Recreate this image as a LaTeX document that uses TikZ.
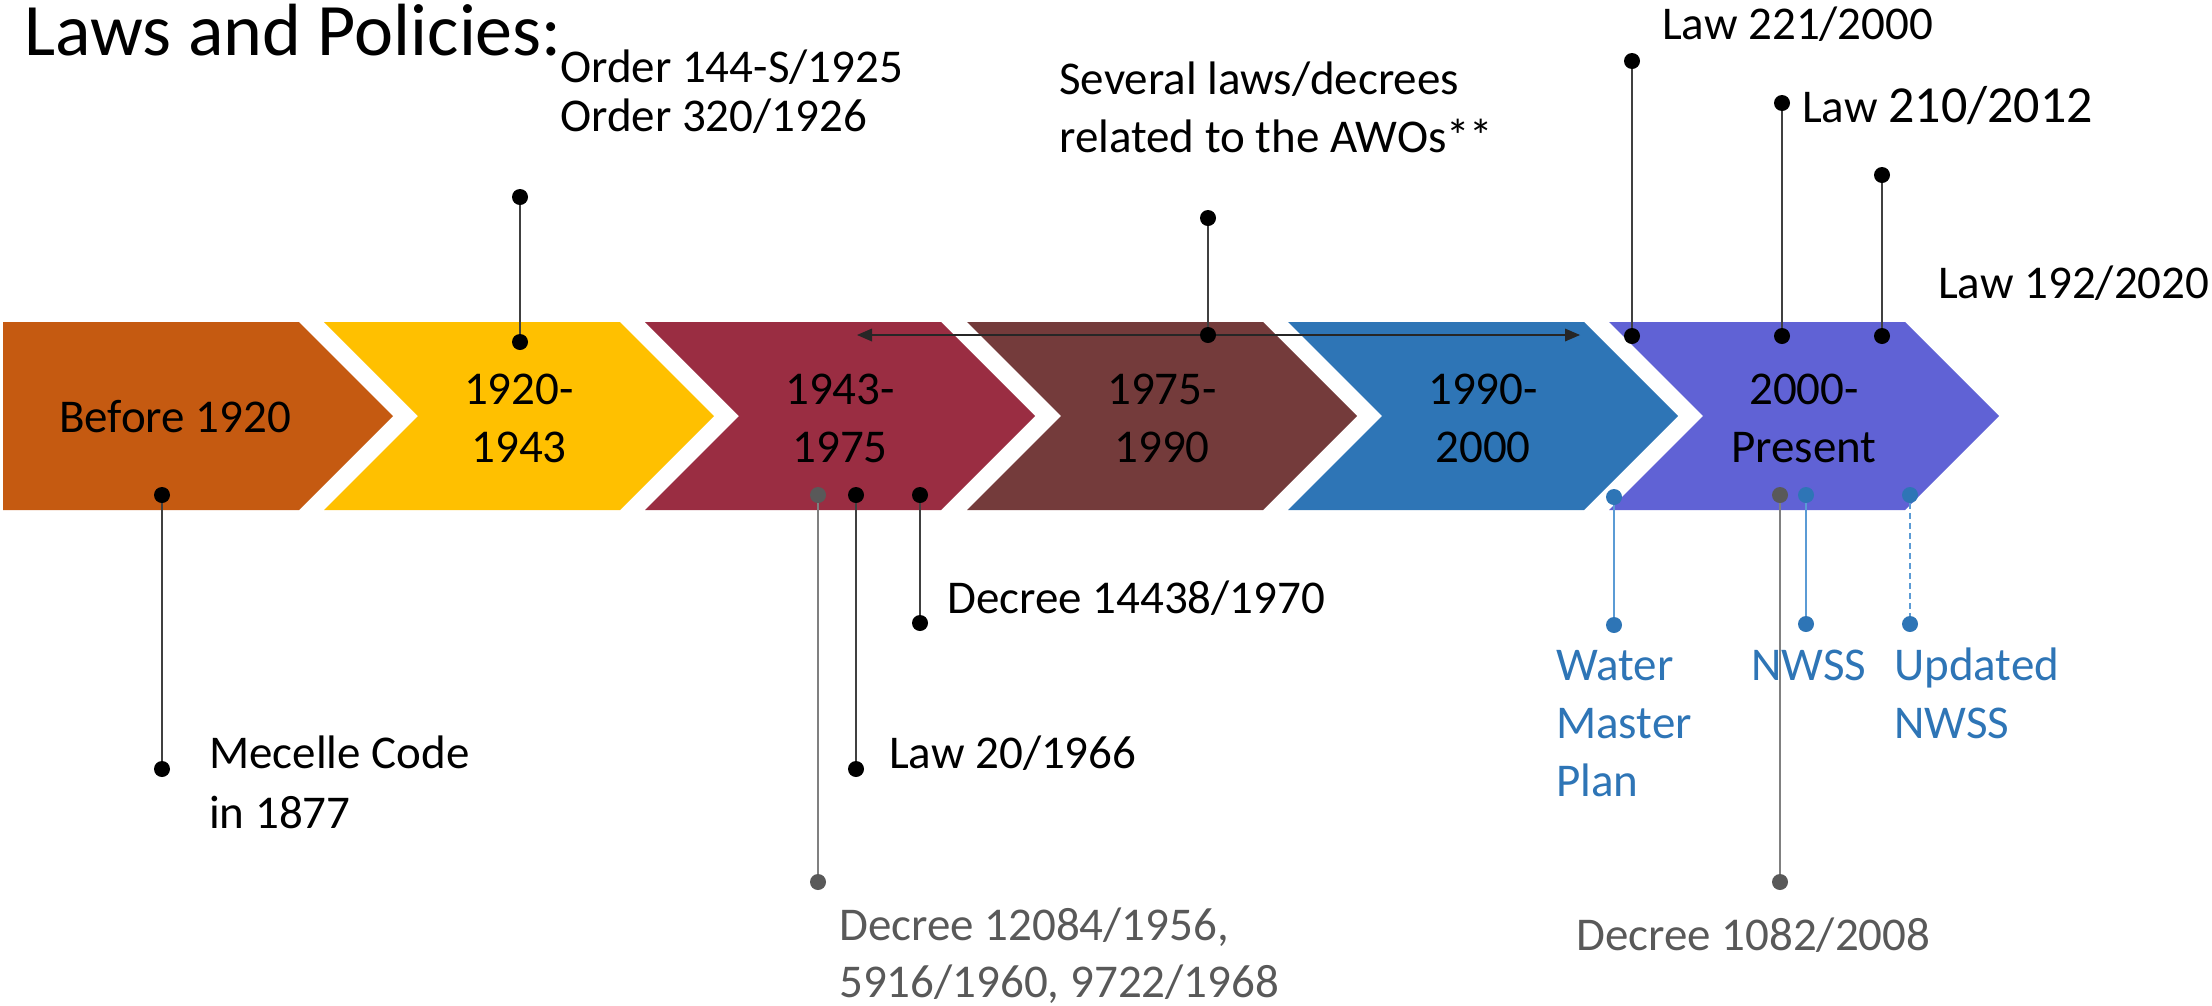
\documentclass[tikz,border=0pt]{standalone}
\usepackage{fontspec}
\setmainfont{Carlito}
\definecolor{corange}{HTML}{C55A11}
\definecolor{cyellow}{HTML}{FFC000}
\definecolor{cred}{HTML}{9A2D42}
\definecolor{cbrown}{HTML}{743B3B}
\definecolor{cblue}{HTML}{2E75B6}
\definecolor{cviolet}{HTML}{6062D5}
\definecolor{dgrey}{HTML}{595959}
\definecolor{lgrey}{HTML}{808080}
\definecolor{lblue}{HTML}{5B9BD5}

\begin{document}
\begin{tikzpicture}[x=1pt,y=-1pt]
\tikzstyle{every node}+=[inner sep=0pt]
\tikzstyle{lawdot}=[circle, fill=black, minimum size=16pt]
\tikzstyle{greydot}=[lawdot, fill=dgrey]
\tikzstyle{bluedot}=[lawdot, fill=cblue]
\tikzstyle{lawline}=[draw=black!75, line width=2pt]
\tikzstyle{greyline}=[draw=lgrey, line width=1.5pt]
\tikzstyle{blueline}=[draw=lblue, line width=1.5pt]
\tikzstyle{period}=[anchor=base, align=center, font=\fontsize{47}{58}\selectfont]
\tikzstyle{lbl}=[anchor=base west, align=left, font=\fontsize{47}{58}\selectfont]
\useasboundingbox (0,0) rectangle (2212,1005);
\fill [corange] (3,322) -- (299,322) -- (393,416) -- (299,510) -- (3,510) -- cycle;
\fill [cyellow] (324,322) -- (620,322) -- (714,416) -- (620,510) -- (324,510) -- (418,416) -- cycle;
\fill [cred] (645,322) -- (941,322) -- (1035,416) -- (941,510) -- (645,510) -- (739,416) -- cycle;
\fill [cbrown] (967,322) -- (1263,322) -- (1357,416) -- (1263,510) -- (967,510) -- (1061,416) -- cycle;
\fill [cblue] (1288,322) -- (1584,322) -- (1678,416) -- (1584,510) -- (1288,510) -- (1382,416) -- cycle;
\fill [cviolet] (1609,322) -- (1905,322) -- (1999,416) -- (1905,510) -- (1609,510) -- (1703,416) -- cycle;
\node [period] (before) at (175,432) {Before 1920};
\node [period] (p1920) at (519,462) {1920-\\1943};
\node [period] (p1943) at (840,462) {1943-\\1975};
\node [period] (p1975) at (1162,462) {1975-\\1990};
\node [period] (p1990) at (1483,462) {1990-\\2000};
\node [period] (p2000) at (1804,462) {2000-\\Present};
\node [anchor=base west, font=\fontsize{74}{88}\selectfont] (title) at (24,55) {Laws and Policies:};
% before 1920
\node [lawdot] (mecA) at (162,495) {};
\node [lawdot] (mecB) at (162,769) {};
\draw [lawline] (mecA) -- (mecB);
\node [lbl, font=\fontsize{47}{60}\selectfont] (mecelle) at (209,828) {Mecelle Code\\in 1877};
% 1920-1943
\node [lawdot] (ordA) at (520,342) {};
\node [lawdot] (ordB) at (520,197) {};
\draw [lawline] (ordA) -- (ordB);
\node [lbl, font=\fontsize{47}{49}\selectfont] (orders) at (560,131) {Order 144-S/1925\\Order 320/1926};
% 1943-1975
\node [greydot] (decA) at (818,495) {};
\node [greydot] (decB) at (818,882) {};
\draw [greyline] (decA) -- (decB);
\node [lbl, text=dgrey, font=\fontsize{47}{57}\selectfont] (decrees) at (839,997) {Decree 12084/1956,\\5916/1960, 9722/1968};
\node [lawdot] (lawA) at (856,495) {};
\node [lawdot] (lawB) at (856,769) {};
\draw [lawline] (lawA) -- (lawB);
\node [lbl] (law1966) at (889,768) {Law 20/1966};
\node [lawdot] (dkA) at (920,495) {};
\node [lawdot] (dkB) at (920,623) {};
\draw [lawline] (dkA) -- (dkB);
\node [lbl] (dec1970) at (947,613) {Decree 14438/1970};
% AWOs
\coordinate (awoL) at (857,335);
\coordinate (awoR) at (1580,335);
\draw [black!85, line width=2pt, shorten <=10pt, shorten >=10pt] (awoL) -- (awoR);
\fill [black!85] (awoR) -- ++(-15,-6.5) -- ++(0,13) -- cycle;
\fill [black!85] (awoL) -- ++(15,-6.5) -- ++(0,13) -- cycle;
\node [lawdot] (awoA) at (1208,335) {};
\node [lawdot] (awoB) at (1208,218) {};
\draw [lawline] (awoA) -- (awoB);
\node [lbl] (awos) at (1059,152) {Several laws/decrees\\related to the AWOs**};
% 2000-present, above
\node [lawdot] (l00A) at (1632,336) {};
\node [lawdot] (l00B) at (1632,61) {};
\draw [lawline] (l00A) -- (l00B);
\node [lbl] (law2000) at (1662,39) {Law 221/2000};
\node [lawdot] (l12A) at (1782,336) {};
\node [lawdot] (l12B) at (1782,103) {};
\draw [lawline] (l12A) -- (l12B);
\node [lbl] (law2012) at (1802,122) {Law {\fontsize{52}{58}\selectfont 210/2012}};
\node [lawdot] (l20A) at (1882,336) {};
\node [lawdot] (l20B) at (1882,175) {};
\draw [lawline] (l20A) -- (l20B);
\node [lbl] (law2020) at (1938,298) {Law 192/2020};
% 2000-present, below
\node [bluedot] (wmpA) at (1614,497) {};
\node [bluedot] (wmpB) at (1614,625) {};
\draw [blueline] (wmpA) -- (wmpB);
\node [lbl, text=cblue] (wmp) at (1556,796) {Water\\Master\\Plan};
\node [greydot] (d08A) at (1780,495) {};
\node [greydot] (d08B) at (1780,882) {};
\draw [greyline] (d08A) -- (d08B);
\node [lbl, text=dgrey] (dec2008) at (1576,950) {Decree 1082/2008};
\node [bluedot] (nwsA) at (1806,495) {};
\node [bluedot] (nwsB) at (1806,624) {};
\draw [blueline] (nwsA) -- (nwsB);
\node [lbl, text=cblue] (nwss) at (1751,680) {NWSS};
\node [bluedot] (updA) at (1910,495) {};
\node [bluedot] (updB) at (1910,624) {};
\draw [blueline, dash pattern=on 6pt off 4pt] (updA) -- (updB);
\node [lbl, text=cblue] (updated) at (1894,738) {Updated\\NWSS};
\end{tikzpicture}
\end{document}
